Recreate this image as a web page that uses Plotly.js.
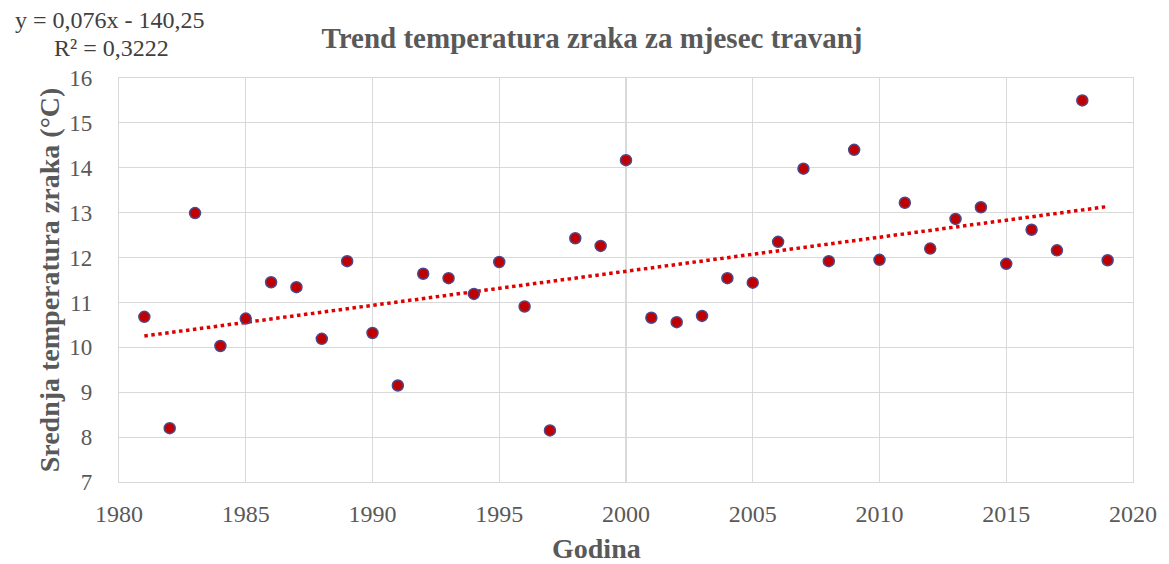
<!DOCTYPE html>
<html>
<head>
<meta charset="utf-8">
<script src="https://cdn.plot.ly/plotly-3.0.1.min.js"></script>
<style>html,body{margin:0;padding:0;background:#fff;}#chart{width:1169px;height:564px;}</style>
</head>
<body>
<div id="chart"></div>
<script>
const years = [1981,1982,1983,1984,1985,1986,1987,1988,1989,1990,1991,1992,1993,1994,1995,1996,1997,1998,1999,2000,2001,2002,2003,2004,2005,2006,2007,2008,2009,2010,2011,2012,2013,2014,2015,2016,2017,2018,2019];
const temps = [10.68,8.20,12.99,10.03,10.64,11.45,11.34,10.19,11.92,10.32,9.15,11.64,11.54,11.19,11.90,10.91,8.15,12.43,12.26,14.17,10.66,10.56,10.70,11.54,11.44,12.35,13.98,11.92,14.40,11.95,13.22,12.20,12.86,13.12,11.86,12.62,12.16,15.50,11.94];
const xTicks = [1980,1985,1990,1995,2000,2005,2010,2015,2020];
const yTicks = [7,8,9,10,11,12,13,14,15,16];
const titleText = 'Trend temperatura zraka za mjesec travanj';
const xTitle = 'Godina';
const yTitle = 'Srednja temperatura zraka (°C)';
const eqText = 'y = 0,076x - 140,25';
const r2Text = 'R² = 0,3222';

// least-squares trend of the read values (Excel linear trendline)
const n = years.length;
const mx = years.reduce((a,b)=>a+b,0)/n;
const my = temps.reduce((a,b)=>a+b,0)/n;
let sxy=0, sxx=0;
for (let i=0;i<n;i++){ sxy+=(years[i]-mx)*(temps[i]-my); sxx+=(years[i]-mx)**2; }
const slope = sxy/sxx, icpt = my - slope*mx;
const trendX = [years[0], years[n-1]];
const trendY = trendX.map(x => slope*x + icpt);

const serif = 'Liberation Serif, Times New Roman, serif';
const grey = '#595959';

const data = [
  {x: trendX, y: trendY, mode:'lines', type:'scatter',
   line:{color:'#E00000', width:3.5, dash:'dot'}, hoverinfo:'skip', showlegend:false},
  {x: years, y: temps, mode:'markers', type:'scatter',
   marker:{size:11, color:'#C00000', line:{color:'#4B4A8C', width:1.5}}, showlegend:false}
];

const W = 1169-119-36, H = 564-78-82;
const layout = {
  width:1169, height:564,
  margin:{l:119, r:36, t:78, b:82},
  paper_bgcolor:'#fff', plot_bgcolor:'#fff',
  font:{family:serif, color:grey},
  title:{text:'<b>'+titleText+'</b>', x:592/1169, xanchor:'center', y:1-38/564, yanchor:'middle',
         font:{family:serif, size:29, color:grey}},
  xaxis:{range:[1980,2020], tickvals:xTicks, ticktext:xTicks.map(String),
         showgrid:true, gridcolor:'#D9D9D9', gridwidth:1.2, zeroline:false,
         showline:true, linecolor:'#D9D9D9', linewidth:1.2, mirror:true,
         ticks:'outside', ticklen:10, tickcolor:'rgba(0,0,0,0)',
         tickfont:{family:serif, size:24, color:grey}},
  yaxis:{range:[7,16], tickvals:yTicks, ticktext:yTicks.map(String),
         showgrid:true, gridcolor:'#D9D9D9', gridwidth:1.2, zeroline:false,
         showline:true, linecolor:'#D9D9D9', linewidth:1.2, mirror:true,
         ticks:'outside', ticklen:21, tickcolor:'rgba(0,0,0,0)',
         tickfont:{family:serif, size:23, color:grey},
         title:{text:'<b>'+yTitle+'</b>', standoff:1, font:{family:serif, size:28, color:grey}}},
  annotations:[
    {text:'<b>'+xTitle+'</b>', xref:'paper', yref:'paper', x:(596-119)/W, y:-(548-482)/H,
     xanchor:'center', yanchor:'middle', showarrow:false, font:{family:serif, size:28, color:grey}},
    {text:eqText, xref:'paper', yref:'paper', x:(110-119)/W, y:1+(78-20)/H,
     xanchor:'center', yanchor:'middle', showarrow:false, font:{family:serif, size:24, color:'#404040'}},
    {text:r2Text, xref:'paper', yref:'paper', x:(111-119)/W, y:1+(78-48)/H,
     xanchor:'center', yanchor:'middle', showarrow:false, font:{family:serif, size:24, color:'#404040'}}
  ]
};
Plotly.newPlot('chart', data, layout, {displayModeBar:false, staticPlot:true});
</script>
</body>
</html>
